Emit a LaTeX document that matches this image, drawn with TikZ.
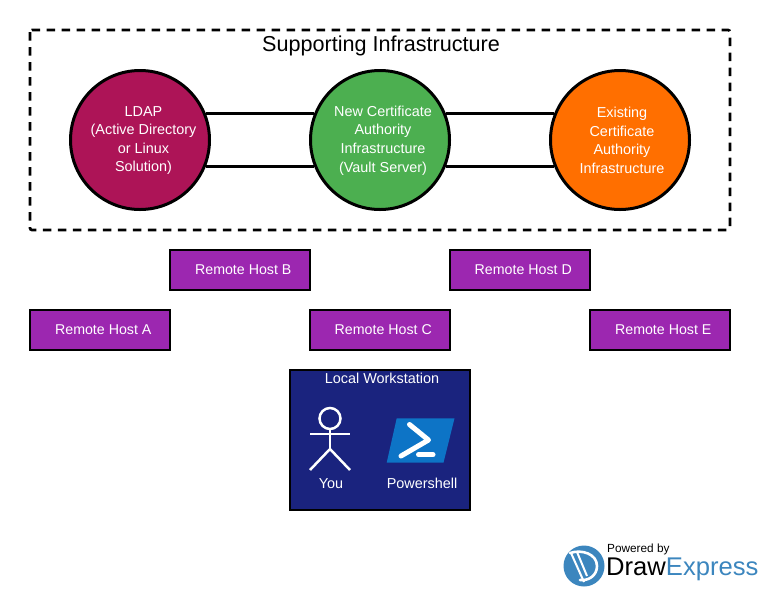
\documentclass[tikz,border=0pt]{standalone}
\usepackage{fontspec}
\setmainfont{Liberation Sans}
\usetikzlibrary{positioning}
\definecolor{ldapred}{HTML}{AD1457}
\definecolor{vaultgreen}{HTML}{4CAF50}
\definecolor{caorange}{HTML}{FF6F00}
\definecolor{hostpurple}{HTML}{9C27B0}
\definecolor{stationblue}{HTML}{1A237E}
\definecolor{shellblue}{HTML}{0D74C6}
\definecolor{logoblue}{HTML}{3C86BE}
\tikzstyle{infra} = [draw,line width=3pt,circle,minimum size=139pt,inner sep=0pt]
\tikzstyle{infratext} = [inner sep=0pt,text=white,align=center,font=\fontsize{14.4}{18.6}\selectfont]
\tikzstyle{host} = [draw,line width=2.5pt,fill=hostpurple,minimum width=140pt,minimum height=40pt,inner sep=0pt,text=white,font=\fontsize{14.2}{17}\selectfont,execute at begin node=\hspace{6.5pt}]
\tikzstyle{link} = [line width=2.8pt]
\tikzstyle{whitetext} = [text=white,inner sep=0pt,font=\fontsize{14.4}{17}\selectfont]
\tikzstyle{stick} = [draw=white,line width=2.5pt]

\begin{document}
\begin{tikzpicture}[x=1pt,y=-1pt,node distance=240pt]
\useasboundingbox (0,0) rectangle (760,590);

\draw[line width=2.7pt,dash pattern=on 8.5pt off 6.5pt,rounded corners=2pt] (30,30) rectangle (730,230);
\node[inner sep=0pt,font=\fontsize{21.6}{24}\selectfont] (title) at (381,46) {Supporting Infrastructure};

\node[infra, fill=ldapred] (ldap) at (140,140) {};
\node[infra, fill=vaultgreen, right of = ldap] (vault) {};
\node[infra, fill=caorange, right of = vault] (existing) {};
\node[infratext] (ldaptext) at (143.5,140.5) {LDAP\\(Active Directory\\or Linux\\Solution)};
\node[infratext] (vaulttext) at (383,140.5) {New Certificate\\Authority\\Infrastructure\\(Vault Server)};
\node[infratext] (existingtext) at (622,140.5) {Existing\\Certificate\\Authority\\Infrastructure};

\path
(ldap.22) edge [link] (vault.158)
(ldap.-22) edge [link] (vault.-158)
(vault.22) edge [link] (existing.158)
(vault.-22) edge [link] (existing.-158);

\node[host] (hosta) at (100,330) {Remote Host A};
\node[host, right of = hosta, node distance=280pt] (hostc) {Remote Host C};
\node[host, right of = hostc, node distance=280pt] (hoste) {Remote Host E};
\node[host] (hostb) at (240,270) {Remote Host B};
\node[host, right of = hostb, node distance=280pt] (hostd) {Remote Host D};

\node[draw,line width=2.5pt,fill=stationblue,minimum width=180pt,minimum height=140pt,inner sep=0pt] (station) at (380,440) {};
\node[whitetext] (stationlabel) at (382,378) {Local Workstation};

% stick figure
\node[stick,circle,minimum size=21pt,inner sep=0pt] (head) at (330,418.5) {};
\coordinate (hip) at (330,449);
\coordinate (armleft) at (310,434);
\coordinate (armright) at (350,434);
\coordinate (footleft) at (310,470);
\coordinate (footright) at (350,470);
\draw[stick] (head) -- (hip);
\draw[stick] (armleft) -- (armright);
\draw[stick] (footleft) -- (hip) -- (footright);
\node[whitetext] (you) at (331,483.5) {You};

% powershell icon
\fill[shellblue] (396.7,418.3) -- (454.5,418.3) -- (443.5,462.7) -- (386.7,462.7) -- cycle;
\draw[white,line width=5pt,line cap=round,line join=round] (409.5,424.5) -- (428.5,440) -- (401,456);
\draw[white,line width=5pt,line cap=round] (418.5,454.7) -- (433,454.7);
\node[whitetext] (shell) at (422,483.5) {Powershell};

% logo
\fill[logoblue] (584,566) circle (20.5);
\draw[white,line width=2.6pt,line cap=round] (570,553) .. controls (582,549) and (597,554) .. (597,566) .. controls (597,576) and (588,581) .. (580,580);
\draw[white,line width=2pt] (571,553) -- (584,582) (577,552) -- (587,576);
\node[anchor=west,inner sep=0pt,font=\fontsize{11.8}{13}\selectfont] (powered) at (607,549.5) {Powered by};
\node[anchor=west,inner sep=0pt,font=\fontsize{25.6}{28}\selectfont] (brand) at (606,569.5) {Draw\textcolor{logoblue}{Express}};
\end{tikzpicture}
\end{document}
